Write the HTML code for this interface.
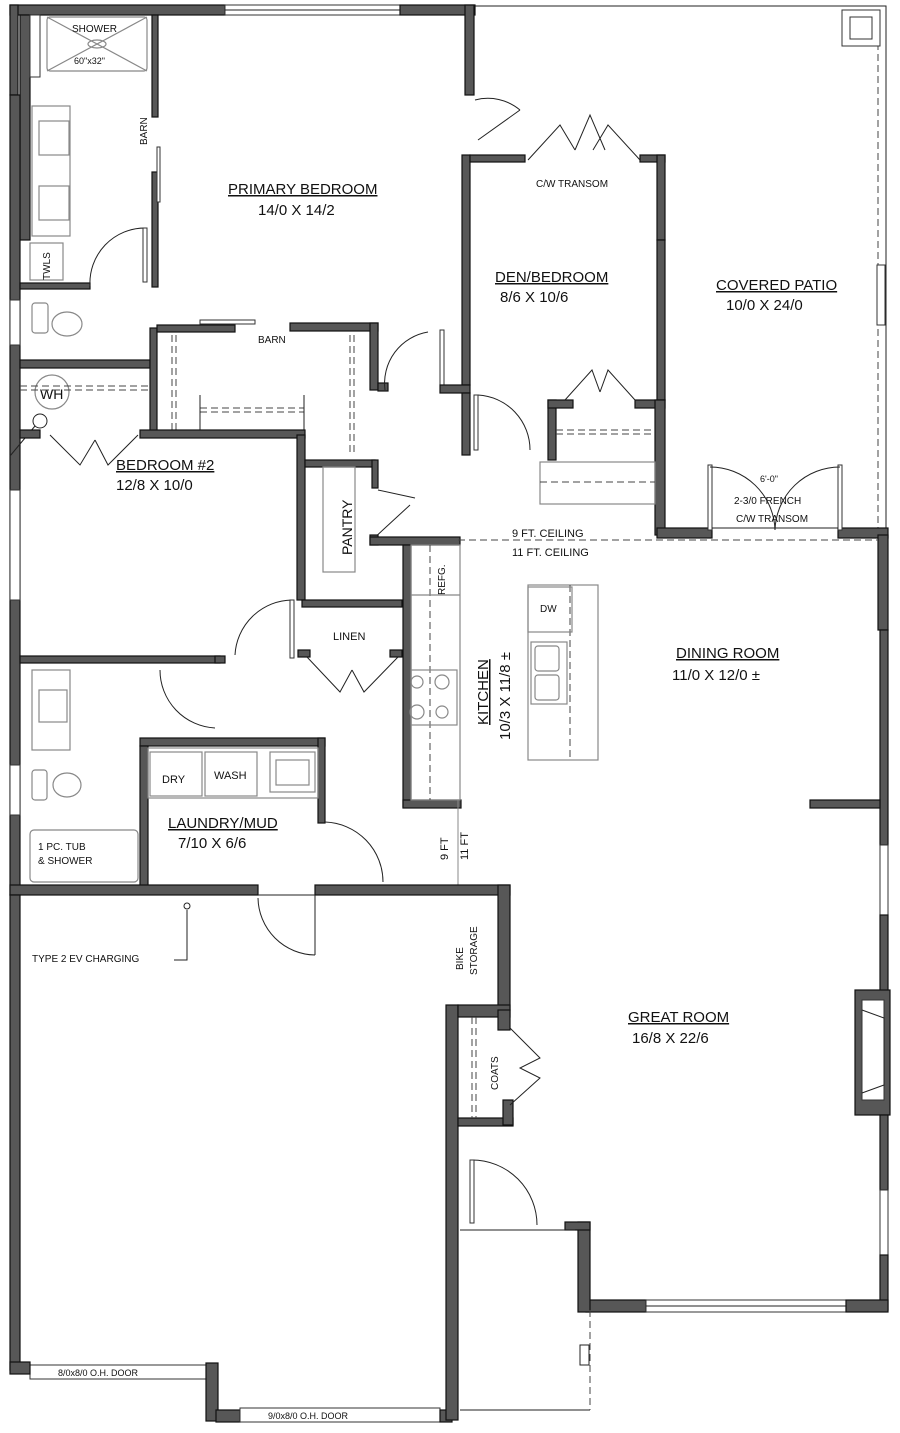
<!DOCTYPE html>
<html><head><meta charset="utf-8"><style>
html,body{margin:0;padding:0;background:#fff}
svg{display:block}
.w{fill:#575757;stroke:#111;stroke-width:1.2}
.t{fill:#fff;stroke:#333;stroke-width:1}
.l{fill:none;stroke:#222;stroke-width:1}
.g{fill:none;stroke:#888;stroke-width:1.2}
.d{fill:none;stroke:#444;stroke-width:1;stroke-dasharray:7 4}
text{font-family:"Liberation Sans",sans-serif;fill:#111}
</style></head><body>
<svg width="900" height="1433" viewBox="0 0 900 1433" xmlns="http://www.w3.org/2000/svg">
<!-- patio outline -->
<path class="l" d="M475 6 H886 V535" stroke-dasharray="0"/>
<line x1="878" y1="10" x2="878" y2="530" class="d"/>
<rect x="842" y="10" width="38" height="36" class="t"/>
<rect x="850" y="17" width="22" height="22" class="t"/>
<rect x="877" y="265" width="8" height="60" class="t"/>
<!-- top wall -->
<rect class="w" x="10" y="5" width="215" height="10"/>
<rect class="t" x="225" y="5" width="175" height="10"/>
<line class="l" x1="225" y1="10" x2="400" y2="10"/>
<rect class="w" x="400" y="5" width="75" height="10"/>
<rect class="w" x="465" y="5" width="9" height="90"/>
<!-- left exterior -->
<rect class="w" x="10" y="5" width="8" height="90"/>
<rect class="w" x="20" y="15" width="10" height="225"/>
<rect class="w" x="10" y="95" width="10" height="800"/>
<rect class="t" x="10" y="300" width="10" height="45"/>
<rect class="t" x="10" y="490" width="10" height="110"/>
<rect class="t" x="10" y="765" width="10" height="50"/>
<!-- bath -->
<rect class="t" x="30" y="15" width="10" height="62"/>
<rect class="g" x="47" y="17" width="100" height="54" rx="3"/>
<path class="g" d="M47 17 L147 71 M147 17 L47 71"/>
<ellipse cx="97" cy="44" rx="9" ry="4" class="g"/>
<text x="72" y="32" font-size="10">SHOWER</text>
<text x="74" y="64" font-size="9">60"x32"</text>
<rect class="g" x="32" y="106" width="38" height="130"/>
<rect class="g" x="39" y="121" width="30" height="34"/>
<rect class="g" x="39" y="186" width="30" height="34"/>
<rect class="g" x="30" y="243" width="33" height="37"/>
<text x="0" y="0" font-size="10" transform="translate(50,280) rotate(-90)">TWLS</text>
<rect class="w" x="152" y="15" width="6" height="102"/>
<rect class="w" x="152" y="172" width="6" height="115"/>
<rect class="t" x="157" y="147" width="3" height="55"/>
<text font-size="10" transform="translate(147,145) rotate(-90)">BARN</text>
<rect class="w" x="20" y="283" width="70" height="6"/>
<path class="l" d="M90 286 A55 55 0 0 1 145 228 M145 228 V282"/>
<rect class="t" x="143" y="228" width="4" height="54"/>
<rect class="g" x="32" y="303" width="16" height="30" rx="3"/>
<ellipse class="g" cx="67" cy="324" rx="15" ry="12"/>
<rect class="w" x="20" y="360" width="130" height="8"/>
<circle class="g" cx="52" cy="392" r="17"/>
<text x="40" y="399" font-size="14" fill="#777">WH</text>
<line class="d" x1="20" y1="386" x2="150" y2="386"/>
<line class="d" x1="20" y1="390" x2="150" y2="390"/>
<circle class="l" cx="40" cy="421" r="7"/>
<line class="l" x1="10" y1="456" x2="35" y2="426"/>
<rect class="w" x="150" y="328" width="7" height="105"/>
<!-- primary bedroom closet -->
<rect class="w" x="157" y="325" width="78" height="7"/>
<rect class="t" x="200" y="320" width="55" height="4"/>
<rect class="w" x="290" y="323" width="88" height="8"/>
<rect class="w" x="370" y="323" width="8" height="67"/>
<line class="d" x1="172" y1="335" x2="172" y2="430"/>
<line class="d" x1="176" y1="335" x2="176" y2="430"/>
<line class="d" x1="350" y1="335" x2="350" y2="455"/>
<line class="d" x1="354" y1="335" x2="354" y2="455"/>
<line class="d" x1="200" y1="408" x2="304" y2="408"/>
<line class="d" x1="200" y1="412" x2="304" y2="412"/>
<line class="l" x1="200" y1="395" x2="200" y2="430"/>
<line class="l" x1="304" y1="395" x2="304" y2="430"/>
<text x="258" y="343" font-size="10">BARN</text>
<text x="228" y="194" font-size="15" text-decoration="underline">PRIMARY BEDROOM</text>
<text x="258" y="215" font-size="15">14/0 X 14/2</text>
<!-- primary bedroom door to hall -->
<rect class="w" x="378" y="383" width="10" height="8"/>
<path class="l" d="M385 390 A52 52 0 0 1 428 332"/>
<rect class="t" x="440" y="330" width="4" height="55"/>
<!-- den walls -->
<rect class="w" x="462" y="155" width="8" height="230"/>
<rect class="w" x="440" y="385" width="30" height="8"/>
<rect class="w" x="462" y="393" width="8" height="62"/>
<rect class="w" x="470" y="155" width="55" height="7"/>
<rect class="w" x="640" y="155" width="25" height="7"/>
<rect class="w" x="657" y="155" width="8" height="85"/>
<rect class="w" x="657" y="240" width="8" height="160" fill="#777"/>
<rect class="w" x="548" y="400" width="8" height="60"/>
<rect class="w" x="548" y="400" width="25" height="8"/>
<rect class="w" x="635" y="400" width="30" height="8"/>
<rect class="w" x="655" y="400" width="10" height="135"/>
<line class="d" x1="556" y1="430" x2="655" y2="430"/>
<line class="d" x1="556" y1="434" x2="655" y2="434"/>
<path class="l" d="M528 160 L560 125 L575 150 M640 160 L608 125 L593 150 M575 150 L590 115 L605 150"/>
<path class="l" d="M565 400 L592 370 L600 392 M635 400 L608 370 L600 392"/>
<path class="l" d="M475 100 A50 50 0 0 1 520 110 M478 140 L520 110"/>
<path class="l" d="M478 395 A55 55 0 0 1 530 450"/>
<rect class="t" x="474" y="395" width="4" height="55"/>
<rect class="g" x="540" y="462" width="115" height="42"/>
<line class="d" x1="540" y1="482" x2="655" y2="482"/>
<text x="536" y="187" font-size="10">C/W TRANSOM</text>
<text x="495" y="282" font-size="15" text-decoration="underline">DEN/BEDROOM</text>
<text x="500" y="302" font-size="15">8/6 X 10/6</text>
<text x="716" y="290" font-size="15" text-decoration="underline">COVERED PATIO</text>
<text x="726" y="310" font-size="15">10/0 X 24/0</text>
<!-- patio french door -->
<rect class="w" x="657" y="528" width="55" height="10"/>
<rect class="w" x="838" y="528" width="50" height="10"/>
<rect class="t" x="708" y="465" width="4" height="65"/>
<rect class="t" x="838" y="465" width="4" height="65"/>
<path class="l" d="M710 467 A65 65 0 0 1 775 530 M840 467 A65 65 0 0 0 775 530"/>
<line class="l" x1="712" y1="528" x2="838" y2="528"/>
<text x="760" y="482" font-size="9">6'-0"</text>
<text x="734" y="504" font-size="10">2-3/0 FRENCH</text>
<text x="736" y="522" font-size="10">C/W TRANSOM</text>
<!-- right exterior -->
<rect class="w" x="878" y="535" width="10" height="95"/>
<rect class="w" x="880" y="630" width="8" height="215" fill="#666"/>
<rect class="t" x="880" y="845" width="8" height="70"/>
<rect class="w" x="880" y="915" width="8" height="80"/>
<rect class="w" x="855" y="990" width="35" height="125"/>
<rect class="t" x="862" y="1000" width="22" height="100"/>
<path class="l" d="M862 1010 L884 1018 V1085 L862 1093"/>
<rect class="w" x="880" y="1115" width="8" height="75"/>
<rect class="t" x="880" y="1190" width="8" height="65"/>
<rect class="w" x="880" y="1255" width="8" height="55"/>
<rect class="w" x="586" y="1300" width="60" height="12"/>
<rect class="t" x="646" y="1300" width="200" height="12"/>
<line class="l" x1="646" y1="1306" x2="846" y2="1306"/>
<rect class="w" x="846" y="1300" width="42" height="12"/>
<rect class="w" x="578" y="1222" width="12" height="90"/>
<rect class="w" x="810" y="800" width="70" height="8"/>
<!-- bedroom 2 -->
<rect class="w" x="20" y="430" width="20" height="8"/>
<rect class="w" x="140" y="430" width="165" height="8"/>
<path class="l" d="M50 435 L80 465 L95 440 M138 435 L108 465 L95 440"/>
<rect class="w" x="297" y="435" width="8" height="165"/>
<rect class="w" x="20" y="656" width="200" height="7"/>
<path class="l" d="M235 655 A58 58 0 0 1 292 600"/>
<rect class="t" x="290" y="600" width="4" height="58"/>
<rect class="w" x="215" y="656" width="10" height="7"/>
<text x="116" y="470" font-size="15" text-decoration="underline">BEDROOM #2</text>
<text x="116" y="490" font-size="15">12/8 X 10/0</text>
<!-- pantry / linen -->
<rect class="w" x="305" y="460" width="70" height="7"/>
<rect class="w" x="372" y="460" width="6" height="28"/>
<rect class="g" x="323" y="467" width="32" height="105"/>
<text font-size="14" transform="translate(352,555) rotate(-90)">PANTRY</text>
<path class="l" d="M378 490 L415 498 M372 540 L410 505"/>
<rect class="w" x="370" y="535" width="8" height="10"/>
<rect class="w" x="302" y="600" width="100" height="7"/>
<rect class="w" x="298" y="650" width="12" height="7"/>
<rect class="w" x="390" y="650" width="12" height="7"/>
<text x="333" y="640" font-size="11">LINEN</text>
<path class="l" d="M307 657 L340 692 L352 670 M398 657 L364 692 L352 670"/>
<!-- kitchen -->
<rect class="w" x="370" y="537" width="90" height="8"/>
<rect class="w" x="403" y="545" width="8" height="262"/>
<rect class="w" x="403" y="800" width="58" height="8"/>
<rect class="g" x="411" y="545" width="49" height="255"/>
<line class="d" x1="430" y1="545" x2="430" y2="800"/>
<line class="g" x1="411" y1="595" x2="460" y2="595"/>
<text font-size="10" transform="translate(445,595) rotate(-90)">REFG.</text>
<rect class="g" x="411" y="670" width="46" height="55"/>
<circle class="g" cx="417" cy="682" r="6"/><circle class="g" cx="442" cy="682" r="7"/>
<circle class="g" cx="417" cy="712" r="7"/><circle class="g" cx="442" cy="712" r="6"/>
<line x1="458" y1="540" x2="878" y2="540" class="d" stroke="#888"/>
<line x1="458" y1="800" x2="458" y2="890" stroke="#888"/>
<text x="512" y="537" font-size="11">9 FT. CEILING</text>
<text x="512" y="556" font-size="11">11 FT. CEILING</text>
<text font-size="11" transform="translate(448,860) rotate(-90)">9 FT</text>
<text font-size="11" transform="translate(468,860) rotate(-90)">11 FT</text>
<rect class="g" x="528" y="585" width="70" height="175"/>
<line class="d" x1="570" y1="585" x2="570" y2="760"/>
<rect class="g" x="528" y="587" width="44" height="45"/>
<text x="540" y="612" font-size="10">DW</text>
<rect class="g" x="531" y="642" width="36" height="62"/>
<rect class="g" x="535" y="646" width="24" height="25" rx="3"/>
<rect class="g" x="535" y="675" width="24" height="25" rx="3"/>
<text font-size="15" transform="translate(488,725) rotate(-90)" text-decoration="underline">KITCHEN</text>
<text font-size="15" transform="translate(510,740) rotate(-90)">10/3 X 11/8 ±</text>
<text x="676" y="658" font-size="15" text-decoration="underline">DINING ROOM</text>
<text x="672" y="680" font-size="15">11/0 X 12/0 ±</text>
<!-- hall bath 2 -->
<rect class="g" x="32" y="670" width="38" height="80"/>
<rect class="g" x="39" y="690" width="28" height="32"/>
<rect class="g" x="32" y="770" width="15" height="30" rx="3"/>
<ellipse class="g" cx="67" cy="785" rx="14" ry="12"/>
<rect class="g" x="30" y="830" width="108" height="52" rx="4"/>
<text x="38" y="850" font-size="10">1 PC. TUB</text>
<text x="38" y="864" font-size="10">&amp; SHOWER</text>
<path class="l" d="M160 670 A58 58 0 0 0 215 728"/>
<!-- laundry -->
<rect class="w" x="140" y="738" width="185" height="8"/>
<rect class="w" x="318" y="738" width="7" height="85"/>
<rect class="w" x="140" y="746" width="8" height="140"/>
<rect class="g" x="148" y="748" width="170" height="50"/>
<rect class="g" x="150" y="752" width="52" height="44"/>
<rect class="g" x="205" y="752" width="52" height="44"/>
<rect class="g" x="270" y="752" width="45" height="40"/>
<rect class="g" x="276" y="760" width="33" height="25"/>
<text x="162" y="783" font-size="11">DRY</text>
<text x="214" y="779" font-size="11">WASH</text>
<path class="l" d="M325 822 A60 60 0 0 1 383 882"/>
<text x="168" y="828" font-size="15" text-decoration="underline">LAUNDRY/MUD</text>
<text x="178" y="848" font-size="15">7/10 X 6/6</text>
<!-- garage top wall -->
<rect class="w" x="10" y="885" width="248" height="10"/>
<rect class="w" x="315" y="885" width="195" height="10"/>
<path class="l" d="M258 895 H315 M258 898 A58 58 0 0 0 315 955 M315 895 V955"/>
<rect class="w" x="498" y="885" width="12" height="125"/>
<text font-size="10" transform="translate(463,970) rotate(-90)">BIKE</text>
<text font-size="10" transform="translate(477,975) rotate(-90)">STORAGE</text>
<!-- garage -->
<rect class="w" x="10" y="895" width="10" height="475"/>
<rect class="t" x="30" y="1365" width="178" height="14"/>
<text x="58" y="1376" font-size="9">8/0x8/0 O.H. DOOR</text>
<rect class="w" x="10" y="1362" width="20" height="12"/>
<rect class="w" x="206" y="1363" width="12" height="58"/>
<rect class="w" x="216" y="1410" width="24" height="12"/>
<rect class="t" x="240" y="1408" width="200" height="14"/>
<text x="268" y="1419" font-size="9">9/0x8/0 O.H. DOOR</text>
<rect class="w" x="440" y="1410" width="12" height="12"/>
<rect class="w" x="446" y="1005" width="12" height="415"/>
<circle class="l" cx="187" cy="906" r="3"/>
<path class="l" d="M187 910 V960 H174"/>
<text x="32" y="962" font-size="10">TYPE 2 EV CHARGING</text>
<!-- coats -->
<rect class="w" x="458" y="1005" width="52" height="12"/>
<rect class="w" x="498" y="1010" width="12" height="20"/>
<rect class="w" x="458" y="1118" width="55" height="8"/>
<rect class="w" x="503" y="1100" width="10" height="25"/>
<line class="d" x1="472" y1="1017" x2="472" y2="1118"/>
<line class="d" x1="476" y1="1017" x2="476" y2="1118"/>
<path class="l" d="M510 1028 L540 1058 L520 1068 L540 1078 L510 1105"/>
<text font-size="10" transform="translate(498,1090) rotate(-90)">COATS</text>
<path class="l" d="M472 1160 A65 65 0 0 1 537 1225 M472 1160 V1220"/>
<rect class="t" x="470" y="1160" width="4" height="63"/>
<rect class="w" x="565" y="1222" width="25" height="8"/>
<line class="l" x1="460" y1="1230" x2="575" y2="1230"/>
<line class="l" x1="460" y1="1410" x2="590" y2="1410"/>
<line x1="590" y1="1310" x2="590" y2="1410" class="d" stroke="#999"/>
<rect class="l" x="580" y="1345" width="9" height="20"/>
<text x="628" y="1022" font-size="15" text-decoration="underline">GREAT ROOM</text>
<text x="632" y="1043" font-size="15">16/8 X 22/6</text>
</svg>
</body></html>
